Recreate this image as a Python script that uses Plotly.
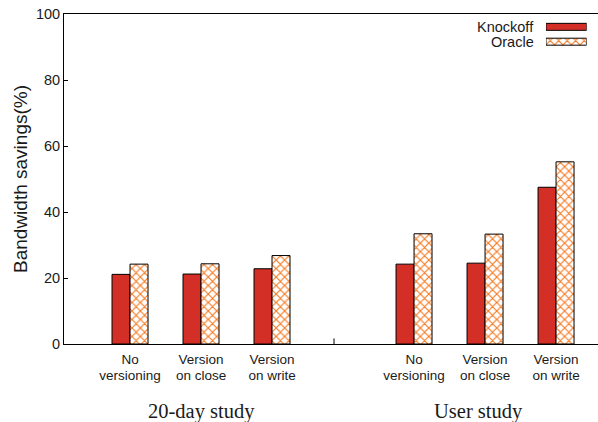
import plotly.graph_objects as go

# ---- data ----
positions = [0, 1, 2, 4, 5, 6]
label_line1 = ["No", "Version", "Version", "No", "Version", "Version"]
label_line2 = ["versioning", "on close", "on write", "versioning", "on close", "on write"]
knockoff = [21.1, 21.2, 22.8, 24.2, 24.5, 47.5]
oracle = [24.2, 24.3, 26.8, 33.4, 33.3, 55.2]
group_titles = ["20-day study", "User study"]
group_title_x = [1.0, 4.91]
y_ticks = [0, 20, 40, 60, 80, 100]
separator_tick = [2.873]

RED = "#D42F26"
ORANGE = "#F57A22"
SANS = "Liberation Sans, Arial, sans-serif"
SERIF = "Liberation Serif, Times New Roman, serif"
TXT = "#1a1a1a"
BW = 0.2535
PATTERN = dict(shape="x", fgcolor=ORANGE, bgcolor="white", size=6, solidity=0.35, fgopacity=1)

fig = go.Figure()
fig.add_trace(go.Bar(
    x=positions, y=knockoff, name="Knockoff", offset=-BW, width=BW,
    marker=dict(color=RED, line=dict(color="black", width=1)),
    showlegend=False, xaxis="x", yaxis="y"))
fig.add_trace(go.Bar(
    x=positions, y=oracle, name="Oracle", offset=0, width=BW,
    marker=dict(color="white", line=dict(color="black", width=1), pattern=PATTERN),
    showlegend=False, xaxis="x", yaxis="y"))

# small separator tick on the x axis (lower half clipped by the plot area)
fig.add_trace(go.Scatter(
    x=separator_tick, y=[0] * len(separator_tick), mode="markers", cliponaxis=True,
    marker=dict(symbol="line-ns", size=8, line=dict(color="black", width=1)),
    showlegend=False, hoverinfo="skip", xaxis="x", yaxis="y"))

# legend keys drawn as small bars on an auxiliary axis
fig.add_trace(go.Bar(
    y=[1], x=[1], orientation="h", width=0.47,
    marker=dict(color=RED, line=dict(color="black", width=1)),
    showlegend=False, xaxis="x4", yaxis="y4"))
fig.add_trace(go.Bar(
    y=[0], x=[1], orientation="h", width=0.47,
    marker=dict(color="white", line=dict(color="black", width=1), pattern=PATTERN),
    showlegend=False, xaxis="x4", yaxis="y4"))

# invisible trace to activate the second-line label axis
fig.add_trace(go.Scatter(x=positions, y=[None]*6, xaxis="x2", yaxis="y", showlegend=False,
                         hoverinfo="skip", mode="markers"))

xr = [-0.93, 6.591]
fig.update_layout(
    width=598, height=422,
    margin=dict(l=64, r=0, t=14, b=78),
    paper_bgcolor="white", plot_bgcolor="white",
    barmode="overlay",
    font=dict(family=SANS, size=14, color=TXT),
    xaxis=dict(range=xr, tickvals=positions, ticktext=label_line1, ticks="",
               showline=True, linecolor="black", linewidth=1, mirror=True,
               showgrid=False, zeroline=False, ticklabelstandoff=3,
               tickfont=dict(family=SANS, size=13.5, color=TXT)),
    xaxis2=dict(range=xr, overlaying="x", anchor="y", side="bottom",
                tickvals=positions, ticktext=label_line2, ticks="",
                showline=False, showgrid=False, zeroline=False, ticklabelstandoff=21,
                tickfont=dict(family=SANS, size=13.5, color=TXT)),
    yaxis=dict(range=[0, 100], tickvals=y_ticks, ticks="inside", ticklen=4,
               tickcolor="black", showline=True, linecolor="black", linewidth=1,
               showgrid=False, zeroline=False,
               tickfont=dict(family=SANS, size=14.5, color=TXT),
               title=dict(text="Bandwidth savings(%)", font=dict(family=SANS, size=19, color=TXT),
                          standoff=3)),
    xaxis4=dict(domain=[0.9026, 0.9788], range=[0, 1], visible=False, anchor="y4"),
    yaxis4=dict(domain=[0.8936, 0.9836], range=[-0.5, 1.5], visible=False, anchor="x4"),
)

# legend text
legend_names = ["Knockoff", "Oracle"]
legend_y = [1, 0]
for name, yy in zip(legend_names, legend_y):
    fig.add_annotation(text=name, x=0, y=yy, xref="x4", yref="y4", xanchor="right", yanchor="middle",
                       xshift=-10, showarrow=False, font=dict(family=SANS, size=14.5, color=TXT))

# group titles
for t, gx in zip(group_titles, group_title_x):
    fig.add_annotation(text=t, x=gx, y=-0.2045, xref="x", yref="paper", xanchor="center", yanchor="middle",
                       showarrow=False, font=dict(family=SERIF, size=20.5, color=TXT))

fig.write_html("out.html")
